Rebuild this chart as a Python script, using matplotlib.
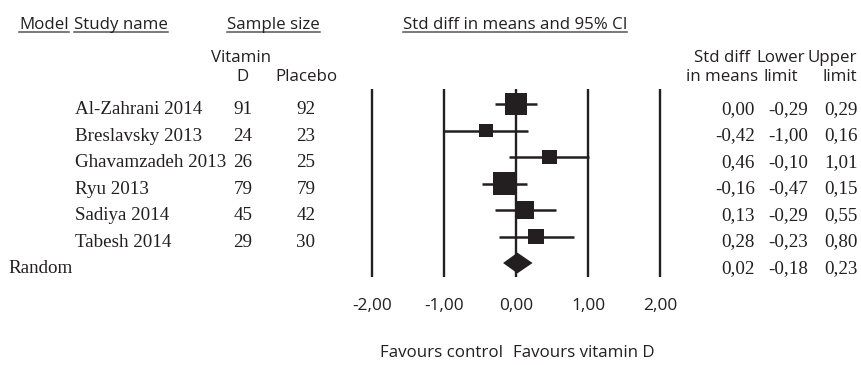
import matplotlib
matplotlib.use('Agg')
import matplotlib.pyplot as plt
import matplotlib.transforms as mtransforms
from matplotlib.lines import Line2D
import numpy as np

studies = ['Al-Zahrani 2014', 'Breslavsky 2013', 'Ghavamzadeh 2013',
           'Ryu 2013', 'Sadiya 2014', 'Tabesh 2014']
n_vitd = [91, 24, 26, 79, 45, 29]
n_placebo = [92, 23, 25, 79, 42, 30]
smd = [0.00, -0.42, 0.46, -0.16, 0.13, 0.28]
lower = [-0.29, -1.00, -0.10, -0.47, -0.29, -0.23]
upper = [0.29, 0.16, 1.01, 0.15, 0.55, 0.80]
weights = [24.0, 9.7, 11.2, 26.3, 16.1, 12.7]   # relative weight, %
pooled_label = 'Random'
pooled = [0.02, -0.18, 0.23]                     # estimate, lower, upper
ticks = [-2, -1, 0, 1, 2]

W, H = 862, 365
TXT = '#231f20'
SANS = 'Open Sans'
SERIF = 'Liberation Serif'
SANS_SIZE = 12.2


def fmt(v):
    return f'{v:.2f}'.replace('.', ',')


def fx(px):
    return px / W


def fy(py):
    return 1 - py / H


fig = plt.figure(figsize=(W / 100, H / 100), dpi=100)

# forest panel: 72 px per unit, rows 26.5 px apart
ax = fig.add_axes([fx(343.2), fy(277), 345.6 / W, (277 - 89) / H])
ax.set_xlim(-2.4, 2.4)
ax.set_ylim(6.528, -0.566)
ax.axis('off')

for t in ticks:
    ax.axvline(t, color=TXT, lw=1.7, solid_capstyle='butt')

rows = np.arange(len(studies))
ax.hlines(rows, lower, upper, color=TXT, lw=1.8)
side_px = 4.48 * np.sqrt(weights)
ax.scatter(smd, rows, marker='s', s=(side_px * 0.72) ** 2, color=TXT,
           linewidths=0, zorder=3)

r = len(studies)
est, lo, hi = pooled
ax.fill([lo, est, hi, est], [r, r - 0.39, r, r + 0.39], color=TXT, lw=0, zorder=3)

# tick labels under the panel
tick_tr = mtransforms.blended_transform_factory(ax.transData, fig.transFigure)
for t in ticks:
    fig.text(t, fy(310), fmt(t), transform=tick_tr, ha='center', va='baseline',
             fontsize=12.4, family=SANS, color=TXT)
fig.text(-0.18, fy(357), 'Favours control', transform=tick_tr, ha='right',
         va='baseline', fontsize=SANS_SIZE, family=SANS, color=TXT)
fig.text(-0.04, fy(357), 'Favours vitamin D', transform=tick_tr, ha='left',
         va='baseline', fontsize=SANS_SIZE, family=SANS, color=TXT)

# table rows share the panel's y scale; baseline sits 10 px below the row centre
row_tr = mtransforms.offset_copy(
    mtransforms.blended_transform_factory(fig.transFigure, ax.transData),
    fig=fig, y=-10, units='dots')


def cell(px, row, s, ha):
    fig.text(fx(px), row, s, transform=row_tr, ha=ha, va='baseline',
             fontsize=13.7, family=SERIF, color=TXT)


for i, name in enumerate(studies):
    cell(75, i, name, 'left')
    cell(243, i, str(n_vitd[i]), 'center')
    cell(306, i, str(n_placebo[i]), 'center')
    cell(755, i, fmt(smd[i]), 'right')
    cell(808, i, fmt(lower[i]), 'right')
    cell(858, i, fmt(upper[i]), 'right')
cell(8, r, pooled_label, 'left')
cell(755, r, fmt(pooled[0]), 'right')
cell(808, r, fmt(pooled[1]), 'right')
cell(858, r, fmt(pooled[2]), 'right')

# column headers
hdr_kw = dict(va='baseline', fontsize=SANS_SIZE, family=SANS, color=TXT)
underlined = [
    fig.text(fx(19), fy(29), 'Model', ha='left', **hdr_kw),
    fig.text(fx(74), fy(29), 'Study name', ha='left', **hdr_kw),
    fig.text(fx(227), fy(29), 'Sample size', ha='left', **hdr_kw),
    fig.text(fx(403), fy(29), 'Std diff in means and 95% CI', ha='left', **hdr_kw),
]
fig.text(fx(241), fy(62), 'Vitamin', ha='center', **hdr_kw)
fig.text(fx(243), fy(81), 'D', ha='center', **hdr_kw)
fig.text(fx(306), fy(81), 'Placebo', ha='center', **hdr_kw)
fig.text(fx(722), fy(62), 'Std diff', ha='center', **hdr_kw)
fig.text(fx(722), fy(81), 'in means', ha='center', **hdr_kw)
fig.text(fx(781), fy(62), 'Lower', ha='center', **hdr_kw)
fig.text(fx(781), fy(81), 'limit', ha='center', **hdr_kw)
fig.text(fx(832), fy(62), 'Upper', ha='center', **hdr_kw)
fig.text(fx(840), fy(81), 'limit', ha='center', **hdr_kw)

fig.canvas.draw()
renderer = fig.canvas.get_renderer()
for t in underlined:
    bb = t.get_window_extent(renderer)
    fig.add_artist(Line2D([bb.x0 / W, bb.x1 / W], [fy(32), fy(32)],
                          transform=fig.transFigure, color='#555555', lw=1.1))

fig.savefig('out.png', dpi=100, facecolor='white')
